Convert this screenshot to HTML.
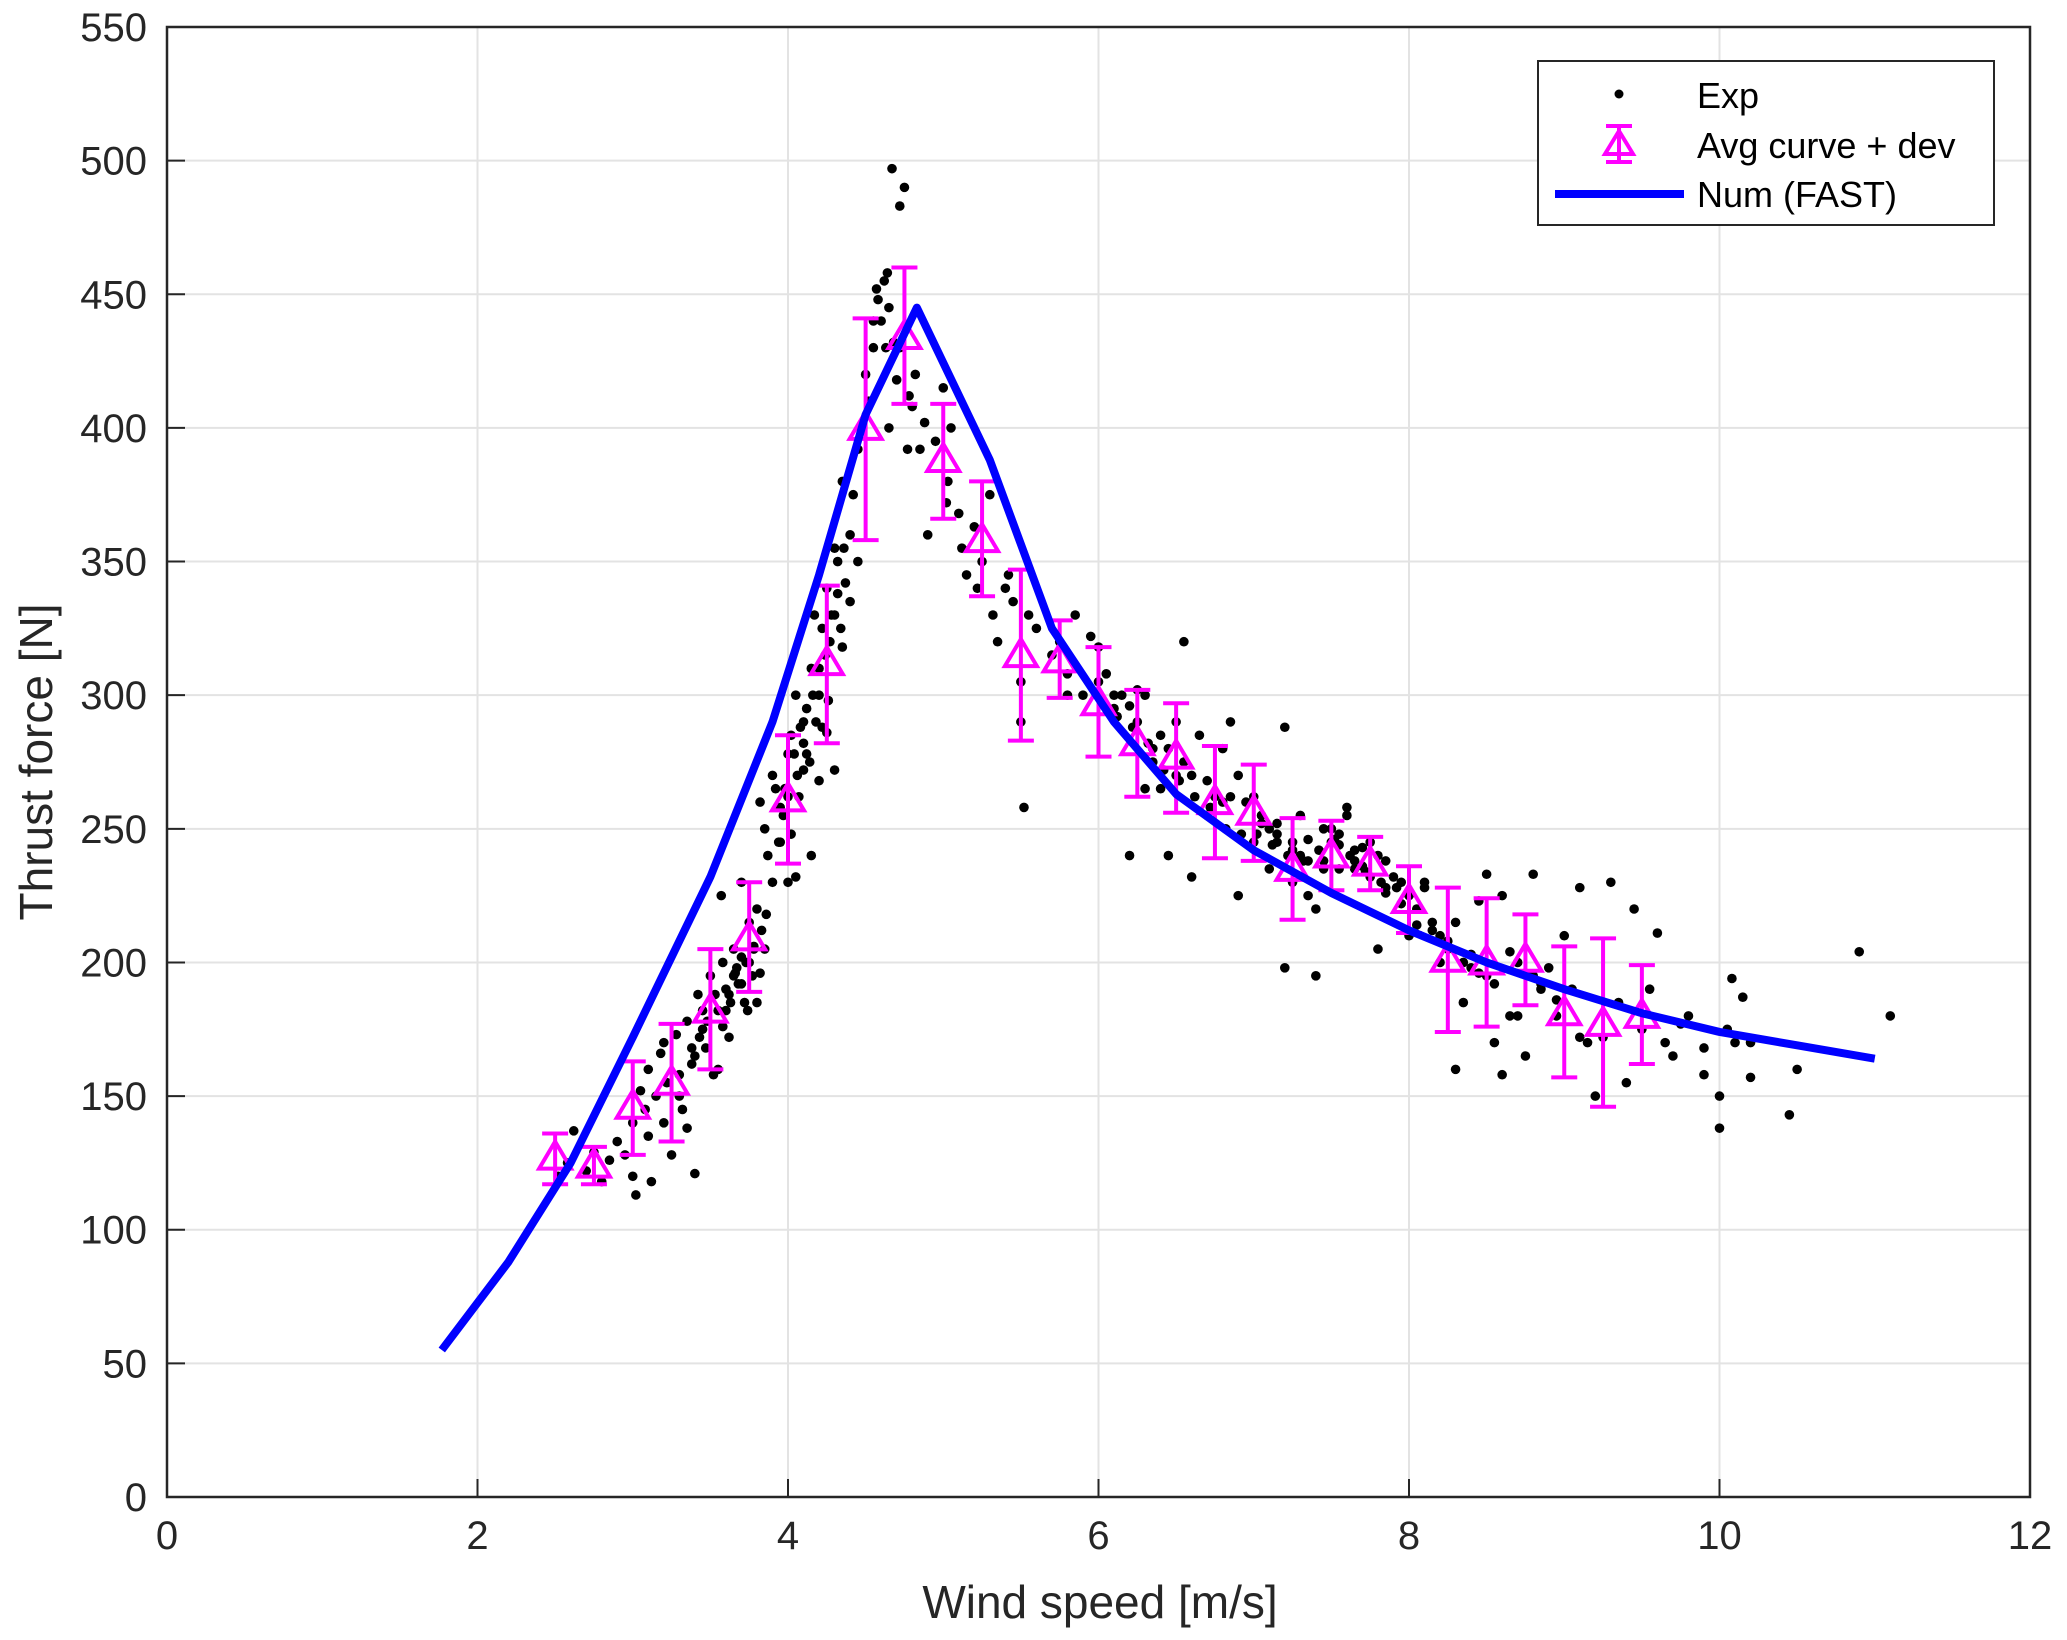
<!DOCTYPE html>
<html><head><meta charset="utf-8">
<style>
html,body{margin:0;padding:0;background:#fff;}
svg{display:block;font-family:"Liberation Sans",Arial,sans-serif;}
</style></head>
<body>
<svg id="chart" width="2067" height="1640" viewBox="0 0 2067 1640" xmlns="http://www.w3.org/2000/svg">
<rect width="2067" height="1640" fill="#fff"/>
<g id="grid"></g>
<g id="scatter"></g>
<g id="avg"></g>
<g id="num"></g>
<g id="axes"></g>
<text x="1100" y="1618" font-size="46" text-anchor="middle" fill="#262626">Wind speed [m/s]</text>
<text transform="translate(52,762) rotate(-90)" font-size="46" text-anchor="middle" fill="#262626">Thrust force [N]</text>
<g>
  <rect x="1538" y="61" width="456" height="164" fill="#fff" stroke="#262626" stroke-width="2"/>
  <circle cx="1619" cy="94" r="4.5" fill="#000"/>
  <text x="1697" y="108" font-size="36" fill="#000">Exp</text>
  <g stroke="#ff00ff" stroke-width="4" fill="none">
    <line x1="1619" y1="126" x2="1619" y2="162"/>
    <line x1="1606" y1="126" x2="1632" y2="126"/>
    <line x1="1606" y1="162" x2="1632" y2="162"/>
    <polygon points="1619,131 1605,154 1633,154"/>
  </g>
  <text x="1697" y="158" font-size="36" fill="#000">Avg curve + dev</text>
  <line x1="1555" y1="194" x2="1684" y2="194" stroke="#0000ff" stroke-width="8"/>
  <text x="1697" y="207" font-size="36" fill="#000">Num (FAST)</text>
</g>
</svg>
<script>
const xTicks = [0,2,4,6,8,10,12];
const yTicks = [0,50,100,150,200,250,300,350,400,450,500,550];
const numX = [1.77,2.2,2.6,3.0,3.5,3.9,4.2,4.5,4.83,5.3,5.7,6.1,6.5,7.0,7.5,8.0,8.5,9.0,9.5,10.0,10.5,11.0];
const numY = [55,88,125,172,232,290,345,405,445,388,325,290,263,242,226,212,200,190,181,174,169,164];
const avgX = [2.5,2.75,3.0,3.25,3.5,3.75,4.0,4.25,4.5,4.75,5.0,5.25,5.5,5.75,6.0,6.25,6.5,6.75,7.0,7.25,7.5,7.75,8.0,8.25,8.5,8.75,9.0,9.25,9.5];
const avgY = [127,124,146,155,182,209,261,312,400,434,388,358,315,313,297,282,277,260,256,235,240,237,223,201,200,201,181,177,180];
const avgLo = [117,117,128,133,160,189,237,282,358,409,366,337,283,299,277,262,256,239,238,216,227,227,211,174,176,184,157,146,162];
const avgHi = [136,131,163,177,205,230,285,341,441,460,409,380,347,328,318,302,297,281,274,254,253,247,236,228,224,218,206,209,199];
const expX = [
2.52,2.58,2.62,2.7,2.75,2.8,2.85,2.9,2.95,3.0,
3.02,3.05,3.08,3.1,3.12,3.15,3.18,3.2,3.22,3.25,
3.28,3.3,3.32,3.35,3.38,3.4,3.42,3.45,3.47,3.5,
3.52,3.55,3.57,3.6,3.62,3.65,3.67,3.7,3.72,3.75,
3.77,3.8,3.82,3.85,3.87,3.9,3.92,3.95,3.97,4.0,
4.02,4.05,4.07,4.1,4.12,4.15,4.17,4.2,4.22,4.25,
4.27,4.3,4.32,4.35,4.37,4.4,4.42,4.45,4.47,4.5,
4.52,4.55,4.57,4.6,4.62,4.63,4.65,4.67,4.68,4.7,
4.72,4.75,4.77,4.8,4.82,4.85,4.9,4.95,5.0,5.03,
5.05,5.1,5.15,5.2,5.25,5.3,5.35,5.4,5.45,5.5,
5.52,5.55,5.6,5.7,5.75,5.8,5.85,5.9,5.95,6.0,
6.05,6.1,6.15,6.2,6.25,6.3,6.35,6.4,6.45,6.5,
6.55,6.6,6.65,6.7,6.75,6.8,6.85,6.9,6.95,7.0,
7.05,7.1,7.15,7.2,7.25,7.3,7.35,7.4,7.45,7.5,
7.55,7.6,7.65,7.7,7.75,7.8,7.85,7.9,7.95,8.0,
8.05,8.1,8.15,8.2,8.25,8.3,8.35,8.4,8.45,8.5,
8.55,8.6,8.65,8.7,8.75,8.8,8.85,8.9,8.95,9.0,
9.05,9.1,9.15,9.2,9.25,9.3,9.35,9.4,9.45,9.5,
9.55,9.6,9.65,9.7,9.8,9.9,10.0,10.05,10.1,10.2,
10.5,10.9,11.1,10.45,10.0,10.08,10.15,10.2,9.9,9.75,
3.6,3.7,3.85,4.05,4.15,4.3,4.45,5.5,6.2,6.6,
7.2,7.4,7.8,8.3,8.6,9.1,6.9,7.6,8.1,3.35,
3.55,3.45,4.25,4.1,4.35,5.8,6.3,6.8,7.3,7.7,
8.4,8.8,3.0,3.1,3.2,3.3,3.4,3.65,3.75,3.8,
3.95,4.0,4.2,4.4,4.55,4.65,6.4,6.5,7.0,7.1,
7.25,7.35,7.5,7.55,7.65,7.85,8.0,8.2,8.5,8.7,
6.0,6.1,6.25,6.35,6.45,6.55,6.7,6.85,7.15,7.45,
3.38,3.43,3.48,3.53,3.58,3.63,3.68,3.73,3.78,3.83,
3.58,3.62,3.66,3.7,3.74,3.78,3.82,3.86,3.9,3.94,
3.98,4.02,4.06,4.1,4.14,4.18,4.22,4.26,4.3,4.34,
4.0,4.04,4.08,4.12,4.16,4.2,4.24,4.28,4.32,4.36,
6.02,6.12,6.22,6.32,6.42,6.52,6.62,6.72,6.82,6.92,
7.02,7.12,7.22,7.32,7.42,7.52,7.62,7.72,7.82,7.92,
7.05,7.15,7.25,7.35,7.45,7.55,7.65,7.75,7.85,7.95,
8.05,8.15,8.25,8.35,8.45,8.55,8.65,8.75,8.85,8.95,
4.58,4.64,4.72,4.78,4.88,5.02,5.12,5.22,5.32,5.42
];
const expY = [
120,125,137,122,129,118,126,133,128,140,
113,152,145,160,118,150,166,140,155,128,
173,158,145,178,162,121,188,175,168,195,
158,182,225,190,172,205,198,230,185,215,
195,220,260,250,240,270,265,258,255,278,
285,300,262,290,295,310,330,300,325,340,
320,355,350,380,342,360,375,392,400,420,
410,440,452,440,455,430,445,497,432,418,
483,490,392,408,420,392,360,395,415,380,
400,368,345,363,350,375,320,340,335,305,
258,330,325,315,320,308,330,300,322,318,
308,295,300,296,302,300,280,285,240,290,
320,270,285,268,262,280,290,270,260,262,
255,250,245,288,245,240,238,220,235,250,
248,255,242,236,245,240,238,232,230,225,
220,228,215,210,205,215,185,203,223,195,
170,225,180,200,165,233,190,198,180,210,
190,228,170,150,172,230,185,155,220,175,
190,211,170,165,180,158,150,175,170,170,
160,204,180,143,138,194,187,157,168,177,
182,192,205,232,240,272,350,290,240,232,
198,195,205,160,158,172,225,258,230,138,
160,182,286,272,318,300,265,260,255,243,
198,195,120,135,170,150,165,195,200,185,
245,230,268,335,430,400,265,270,245,235,
230,225,245,235,235,228,210,200,233,180,
305,300,290,275,280,275,255,262,252,238,
168,172,178,188,176,185,192,200,205,212,
200,188,196,202,182,206,196,218,230,245,
265,248,270,282,275,290,288,298,330,325,
262,278,288,278,300,310,315,330,338,355,
298,292,288,282,272,268,262,258,250,248,
248,244,240,238,242,246,240,234,230,228,
252,248,242,246,250,244,238,232,226,222,
214,212,208,200,196,192,204,196,192,186,
448,458,430,412,402,372,355,340,330,345
];
const X0=167,X1=2030,Y0=1497,Y1=27;
const xs=v=>X0+(v-0)/12*(X1-X0);
const ys=v=>Y0-(v-0)/550*(Y0-Y1);
const NS="http://www.w3.org/2000/svg";
function mk(tag,attrs,parent){const e=document.createElementNS(NS,tag);for(const k in attrs)e.setAttribute(k,attrs[k]);parent.appendChild(e);return e;}
const grid=document.getElementById('grid'),axes=document.getElementById('axes');
xTicks.forEach(t=>{
  const gl=mk('line',{x1:xs(t),x2:xs(t),y1:Y1,y2:Y0,stroke:'#e3e3e3','stroke-width':2},grid);
  
  
  const tk=mk('line',{x1:xs(t),x2:xs(t),y1:Y0,y2:Y0-18,stroke:'#262626','stroke-width':2},axes);
  
  
  const lb=mk('text',{x:xs(t),y:Y0+52,'font-size':40,'text-anchor':'middle',fill:'#262626'},axes);
  
  
  lb.textContent=t;
});
yTicks.forEach(t=>{
  const gl=mk('line',{x1:X0,x2:X1,y1:ys(t),y2:ys(t),stroke:'#e3e3e3','stroke-width':2},grid);
  
  
  const tk=mk('line',{x1:X0,x2:X0+18,y1:ys(t),y2:ys(t),stroke:'#262626','stroke-width':2},axes);
  
  
  const lb=mk('text',{x:X0-20,y:ys(t)+14,'font-size':40,'text-anchor':'end',fill:'#262626'},axes);
  
  
  lb.textContent=t;
});
const frame=mk('rect',{x:X0,y:Y1,width:X1-X0,height:Y0-Y1,fill:'none',stroke:'#262626','stroke-width':2.5},axes);


const sc=document.getElementById('scatter');
expX.forEach((x,i)=>{
  const c=mk('circle',{cx:xs(x),cy:ys(expY[i]),r:4.8,fill:'#000'},sc);
  
  
});
const av=document.getElementById('avg');
avgX.forEach((x,i)=>{
  const cx=xs(x),cy=ys(avgY[i]),lo=ys(avgLo[i]),hi=ys(avgHi[i]);
  const g=mk('g',{stroke:'#ff00ff','stroke-width':4,fill:'none'},av);
  
  
  mk('line',{x1:cx,x2:cx,y1:lo,y2:hi},g);
  mk('line',{x1:cx-13,x2:cx+13,y1:lo,y2:lo},g);
  mk('line',{x1:cx-13,x2:cx+13,y1:hi,y2:hi},g);
  mk('polygon',{points:`${cx},${cy-16} ${cx-16},${cy+11} ${cx+16},${cy+11}`},g);
});
const nm=document.getElementById('num');
const pl=mk('polyline',{points:numX.map((x,i)=>xs(x)+','+ys(numY[i])).join(' '),fill:'none',stroke:'#0000ff','stroke-width':8,'stroke-linejoin':'round'},nm);


</script>
</body></html>
